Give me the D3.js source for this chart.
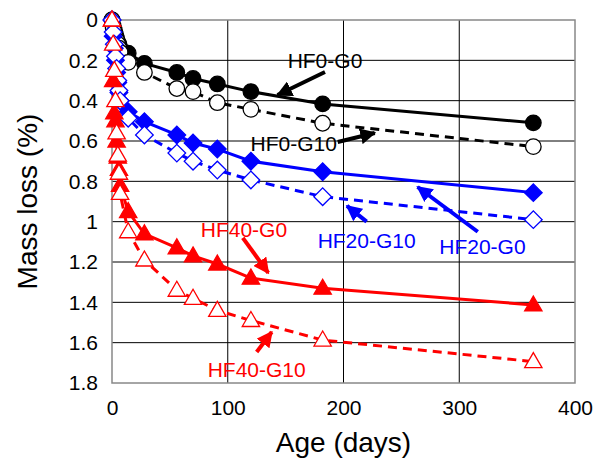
<!DOCTYPE html>
<html>
<head>
<meta charset="utf-8">
<script src="https://cdn.jsdelivr.net/npm/d3@7"></script>
<style>
  body { margin: 0; background: #fff; }
  text { font-family: "Liberation Sans", Arial, sans-serif; }
</style>
</head>
<body>
<svg id="chart" width="607" height="468"></svg>
<script>
// ages (days) at which mass loss was measured
const days = [0, 1, 2, 3, 4, 5, 6, 7, 14, 28, 56, 70, 91, 120, 182, 364];

const hf0g0  = [0, 0.03, 0.05, 0.07, 0.09, 0.11, 0.12, 0.14, 0.165, 0.215, 0.26, 0.29, 0.317, 0.355, 0.416, 0.51];
const hf0g10 = [0, 0.04, 0.06, 0.08, 0.10, 0.12, 0.14, 0.16, 0.21, 0.26, 0.34, 0.355, 0.41, 0.443, 0.512, 0.628];
const hf20g0  = [0, 0.08, 0.14, 0.20, 0.26, 0.31, 0.36, 0.40, 0.455, 0.504, 0.57, 0.61, 0.64, 0.70, 0.752, 0.856];
const hf20g10 = [0, 0.06, 0.12, 0.18, 0.24, 0.30, 0.35, 0.40, 0.487, 0.57, 0.66, 0.70, 0.744, 0.793, 0.876, 0.99];
const hf40g0  = [0, 0.30, 0.46, 0.50, 0.60, 0.68, 0.74, 0.82, 0.95, 1.06, 1.13, 1.17, 1.21, 1.28, 1.33, 1.413];
const hf40g10 = [0, 0.12, 0.25, 0.40, 0.56, 0.67, 0.76, 0.86, 1.05, 1.19, 1.34, 1.38, 1.44, 1.49, 1.587, 1.694];

const xTicks = [0, 100, 200, 300, 400];
const yTicks = [0, 0.2, 0.4, 0.6, 0.8, 1, 1.2, 1.4, 1.6, 1.8];

// label, text position and arrow (from -> to), all in data units
const notes = [
  { name: "HF0-G0",   color: "#000", tx: 184, ty: 0.203, a: [184, 0.258, 143, 0.372] },
  { name: "HF0-G10",  color: "#000", tx: 157, ty: 0.615, a: [195, 0.605, 227, 0.56] },
  { name: "HF20-G0",  color: "#0000ff", tx: 320, ty: 1.125, a: [316, 1.05, 264, 0.828] },
  { name: "HF20-G10", color: "#0000ff", tx: 220, ty: 1.096, a: [220, 1.0, 203, 0.922] },
  { name: "HF40-G0",  color: "#ff0000", tx: 114, ty: 1.04, a: [113, 1.08, 135, 1.254] },
  { name: "HF40-G10", color: "#ff0000", tx: 125, ty: 1.735, a: [125, 1.646, 138, 1.547] }
];

const series = [
  { values: hf0g0,  color: "#000", shape: "circle",   filled: true,  dash: null },
  { values: hf0g10, color: "#000", shape: "circle",   filled: false, dash: "9,6" },
  { values: hf20g0,  color: "#0000ff", shape: "diamond",  filled: true,  dash: null },
  { values: hf20g10, color: "#0000ff", shape: "diamond",  filled: false, dash: "9,6" },
  { values: hf40g0,  color: "#ff0000", shape: "triangle", filled: true,  dash: null },
  { values: hf40g10, color: "#ff0000", shape: "triangle", filled: false, dash: "9,6" }
];

const margin = { top: 20, right: 32, bottom: 85, left: 112 };
const W = 607, H = 468;
const iw = W - margin.left - margin.right, ih = H - margin.top - margin.bottom;

const svg = d3.select("#chart");
const g = svg.append("g").attr("transform", `translate(${margin.left},${margin.top})`);

const x = d3.scaleLinear().domain([0, 400]).range([0, iw]);
const y = d3.scaleLinear().domain([0, 1.8]).range([0, ih]);

// grid
g.append("g").selectAll("line").data(yTicks.slice(1, -1)).join("line")
  .attr("x1", 0).attr("x2", iw).attr("y1", d => y(d)).attr("y2", d => y(d))
  .attr("stroke", "#000").attr("stroke-width", 1);
g.append("g").selectAll("line").data(xTicks.slice(1, -1)).join("line")
  .attr("y1", 0).attr("y2", ih).attr("x1", d => x(d)).attr("x2", d => x(d))
  .attr("stroke", "#000").attr("stroke-width", 1);
g.append("rect").attr("width", iw).attr("height", ih)
  .attr("fill", "none").attr("stroke", "#888").attr("stroke-width", 1.5);

// axes labels
const yAxis = d3.axisLeft(y).tickValues(yTicks).tickSize(0).tickPadding(14).tickFormat(d3.format("~g"));
g.append("g").call(yAxis).call(a => a.select(".domain").remove())
  .selectAll("text").attr("font-size", 21).attr("fill", "#000").attr("font-family", "Liberation Sans, Arial, sans-serif");
const xAxis = d3.axisBottom(x).tickValues(xTicks).tickSize(0).tickPadding(17);
g.append("g").attr("transform", `translate(0,${ih})`).call(xAxis).call(a => a.select(".domain").remove())
  .selectAll("text").attr("font-size", 21).attr("fill", "#000").attr("font-family", "Liberation Sans, Arial, sans-serif");

svg.append("text").attr("x", margin.left + iw / 2).attr("y", 452)
  .attr("text-anchor", "middle").attr("font-size", 28).text("Age (days)");
svg.append("text").attr("transform", `translate(37,${margin.top + ih / 2}) rotate(-90)`)
  .attr("text-anchor", "middle").attr("font-size", 28).text("Mass loss (%)");

// series
const line = d3.line().x(d => x(d[0])).y(d => y(d[1]));
const symbolFor = s => s === "circle" ? d3.symbolCircle : s === "diamond" ? d3.symbolSquare : d3.symbolTriangle;
const sizeFor = s => s === "circle" ? 190 : s === "diamond" ? 155 : 130;

series.forEach(s => {
  const pts = days.map((d, i) => [d, s.values[i]]);
  g.append("path").datum(pts).attr("d", line)
    .attr("fill", "none").attr("stroke", s.color).attr("stroke-width", 3)
    .attr("stroke-dasharray", s.dash);
});
series.forEach(s => {
  const pts = days.map((d, i) => [d, s.values[i]]);
  g.append("g").selectAll("path").data(pts).join("path")
    .attr("d", d3.symbol().type(symbolFor(s.shape)).size(sizeFor(s.shape)))
    .attr("transform", d => `translate(${x(d[0])},${y(d[1]) + (s.shape === "triangle" ? 1 : 0)})` + (s.shape === "diamond" ? " rotate(45)" : ""))
    .attr("fill", s.filled ? s.color : "#fff")
    .attr("stroke", s.color).attr("stroke-width", 1.3);
});

// annotations
const defs = svg.append("defs");
notes.forEach((n, i) => {
  defs.append("marker").attr("id", "ah" + i)
    .attr("viewBox", "0 0 10 10").attr("refX", 9).attr("refY", 5)
    .attr("markerWidth", 4).attr("markerHeight", 4).attr("markerUnits", "strokeWidth").attr("orient", "auto")
    .append("path").attr("d", "M0,0L10,5L0,10z").attr("fill", n.color);
  g.append("line")
    .attr("x1", x(n.a[0])).attr("y1", y(n.a[1])).attr("x2", x(n.a[2])).attr("y2", y(n.a[3]))
    .attr("stroke", n.color).attr("stroke-width", 4).attr("marker-end", `url(#ah${i})`);
  g.append("text").attr("x", x(n.tx)).attr("y", y(n.ty)).attr("dy", "0.35em")
    .attr("text-anchor", "middle").attr("font-size", 21).attr("fill", n.color).text(n.name);
});
</script>
</body>
</html>
